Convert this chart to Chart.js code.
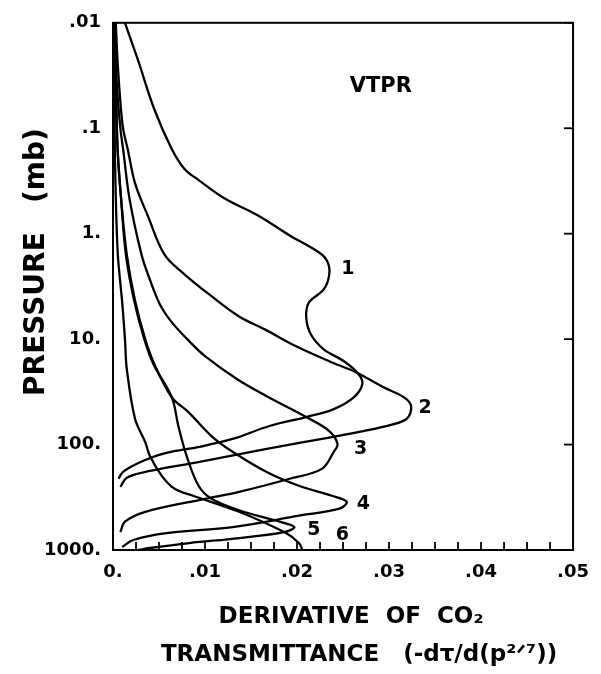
<!DOCTYPE html>
<html>
<head>
<meta charset="utf-8">
<script src="https://cdn.jsdelivr.net/npm/chart.js@4.4.1/dist/chart.umd.min.js"></script>
<style>
  body { margin: 0; background: #fff; }
  canvas { display: block; }
</style>
</head>
<body>
<canvas id="wf" width="601" height="674"></canvas>
<script>
// axis ticks
const yTicks = [0.01, 0.1, 1, 10, 100, 1000];
const yTickLabels = ['.01', '.1', '1.', '10.', '100.', '1000.'];
const xTicks = [0, 0.01, 0.02, 0.03, 0.04, 0.05];
const xTickLabels = ['0.', '.01', '.02', '.03', '.04', '.05'];
const xMinorStep = 0.0025;

// weighting functions (value, pressure in mb)
const curve1X = [0.0013, 0.0027, 0.0045, 0.0064, 0.0078, 0.0092, 0.0121, 0.0159, 0.0192, 0.0224, 0.0233, 0.0235, 0.0229, 0.0213, 0.0210, 0.0215, 0.0229, 0.0251, 0.0267, 0.0271, 0.0262, 0.0240, 0.0210, 0.0170, 0.0130, 0.0094, 0.0058, 0.0035, 0.0018, 0.0010, 0.0006];
const curve1P = [0.01, 0.0224, 0.0664, 0.158, 0.245, 0.305, 0.461, 0.682, 1.04, 1.51, 1.84, 2.44, 3.38, 4.49, 6.22, 9.0, 12.5, 16.2, 21.5, 26.7, 35.5, 46.1, 54.8, 66.7, 88.5, 105, 120, 140, 165, 185, 211];

const curve2X = [0.0003, 0.0005, 0.0008, 0.0011, 0.0016, 0.0024, 0.0038, 0.0056, 0.0078, 0.0105, 0.0137, 0.0165, 0.0199, 0.0235, 0.0264, 0.0294, 0.0316, 0.0324, 0.0319, 0.0292, 0.0238, 0.0167, 0.0094, 0.0040, 0.0015, 0.0008];
const curve2P = [0.01, 0.0234, 0.0558, 0.101, 0.158, 0.333, 0.682, 1.58, 2.44, 3.79, 6.09, 8.08, 11.7, 16.2, 20.6, 28.6, 35.5, 43.2, 57.3, 68.2, 84.8, 110, 146, 178, 206, 252];

const curve3X = [0.0002, 0.0004, 0.0008, 0.0011, 0.0018, 0.0031, 0.0040, 0.0051, 0.0064, 0.0083, 0.0100, 0.0135, 0.0165, 0.0210, 0.0235, 0.0244, 0.0240, 0.0227, 0.0192, 0.0137, 0.0100, 0.0035, 0.0013, 0.0008];
const curve3P = [0.01, 0.036, 0.1, 0.158, 0.469, 1.58, 2.72, 4.69, 6.94, 10.5, 14.5, 24.0, 34.0, 54.8, 74.4, 98.7, 117, 170, 211, 281, 327, 434, 539, 676];

const curve4X = [0.0001, 0.0003, 0.0005, 0.0009, 0.0015, 0.0024, 0.0035, 0.0045, 0.0064, 0.0082, 0.0107, 0.0130, 0.0167, 0.0202, 0.0238, 0.0254, 0.0246, 0.0202, 0.0130, 0.0058, 0.0022, 0.0010];
const curve4P = [0.01, 0.036, 0.158, 0.49, 1.58, 4.33, 10, 17.3, 35.8, 49.2, 83, 117, 182, 246, 306, 349, 406, 473, 606, 691, 804, 937];

const curve5X = [0.0001, 0.0003, 0.0005, 0.0009, 0.0014, 0.0023, 0.0034, 0.0044, 0.0064, 0.0071, 0.0080, 0.0093, 0.0107, 0.0137, 0.0181, 0.0197, 0.0186, 0.0137, 0.0083, 0.0040, 0.0027];
const curve5P = [0.01, 0.036, 0.158, 0.49, 1.58, 4.33, 10, 17.3, 35.8, 66.7, 128, 246, 327, 420, 539, 606, 676, 770, 859, 957, 1000];

const curve6X = [0.0001, 0.0002, 0.0005, 0.0010, 0.0013, 0.0015, 0.0024, 0.0035, 0.0040, 0.0053, 0.0067, 0.0087, 0.0137, 0.0188, 0.0202, 0.0206];
const curve6P = [0.01, 0.158, 1.45, 4.49, 10, 19.3, 57.3, 94.5, 128, 198, 263, 306, 434, 691, 859, 1000];

// curve numbers and the instrument name
const labelText = ['1', '2', '3', '4', '5', '6', 'VTPR'];
const labelX = [0.0248, 0.0332, 0.0262, 0.0265, 0.0211, 0.0242, 0.0291];
const labelP = [2.16, 45.5, 110, 364, 647, 721, 0.0403];

const FONT = '"DejaVu Sans", sans-serif';

function makeSet(xs, ps) {
  return {
    data: xs.map((x, i) => ({ x: x, y: ps[i] })),
    showLine: true,
    borderColor: '#000',
    borderWidth: 2.3,
    pointRadius: 0,
    tension: 0.35,
    fill: false
  };
}

const framePlugin = {
  id: 'frame',
  afterDatasetsDraw(chart) {
    const { ctx, chartArea: a, scales } = chart;
    ctx.save();
    ctx.strokeStyle = '#000';
    ctx.lineWidth = 2;
    ctx.strokeRect(a.left, a.top, a.right - a.left, a.bottom - a.top);

    // inward ticks on the right edge at each decade
    ctx.lineWidth = 1.8;
    yTicks.forEach(v => {
      const y = scales.y.getPixelForValue(v);
      ctx.beginPath();
      ctx.moveTo(a.right, y);
      ctx.lineTo(a.right - 9, y);
      ctx.stroke();
    });
    // inward minor ticks along the bottom
    for (let i = 1; i < 20; i++) {
      const x = scales.x.getPixelForValue(i * xMinorStep);
      ctx.beginPath();
      ctx.moveTo(x, a.bottom);
      ctx.lineTo(x, a.bottom - 8);
      ctx.stroke();
    }

    ctx.fillStyle = '#000';
    ctx.textBaseline = 'middle';
    labelText.forEach((t, i) => {
      ctx.font = (t === 'VTPR' ? 'bold 21px ' : 'bold 19px ') + FONT;
      const x = scales.x.getPixelForValue(labelX[i]);
      const y = scales.y.getPixelForValue(labelP[i]);
      ctx.textAlign = t === 'VTPR' ? 'center' : 'left';
      ctx.fillText(t, x, y);
    });
    ctx.restore();
  }
};

new Chart(document.getElementById('wf'), {
  type: 'scatter',
  data: {
    datasets: [
      makeSet(curve1X, curve1P),
      makeSet(curve2X, curve2P),
      makeSet(curve3X, curve3P),
      makeSet(curve4X, curve4P),
      makeSet(curve5X, curve5P),
      makeSet(curve6X, curve6P)
    ]
  },
  options: {
    responsive: false,
    animation: false,
    events: [],
    layout: { padding: { left: 20, right: 26, top: 21, bottom: 0 } },
    plugins: { legend: { display: false }, tooltip: { enabled: false } },
    scales: {
      x: {
        type: 'linear',
        min: 0,
        max: 0.05,
        grid: { display: false, drawTicks: false },
        border: { display: true, color: '#000', width: 2 },
        afterBuildTicks: s => { s.ticks = xTicks.map(v => ({ value: v })); },
        afterFit: s => { s.height = 674 - 550; },
        ticks: {
          callback: (v, i) => xTickLabels[i],
          color: '#000',
          font: { family: FONT, size: 18, weight: 'bold' },
          padding: 12,
          maxRotation: 0,
          autoSkip: false
        },
        title: {
          display: true,
          // leading spaces nudge the block right, as in the original lettering
          text: ['  DERIVATIVE  OF  CO\u2082', '    TRANSMITTANCE   (-d\u03c4/d(p\u00b2\u141f\u2077))'],
          color: '#000',
          font: { family: FONT, size: 23, weight: 'bold', lineHeight: 1.65 },
          padding: { top: 0, bottom: 0 }
        }
      },
      y: {
        type: 'logarithmic',
        reverse: true,
        min: 0.01,
        max: 1000,
        grid: { display: false, drawTicks: false },
        border: { display: true, color: '#000', width: 2 },
        afterBuildTicks: s => { s.ticks = yTicks.map(v => ({ value: v })); },
        afterFit: s => { s.width = 113 - 20; },
        ticks: {
          callback: (v, i) => yTickLabels[i],
          color: '#000',
          font: { family: FONT, size: 18, weight: 'bold' },
          padding: 12,
          autoSkip: false
        },
        title: {
          display: true,
          text: '     PRESSURE   (mb)',
          color: '#000',
          font: { family: FONT, size: 28, weight: 'bold' },
          padding: 0
        }
      }
    }
  },
  plugins: [framePlugin]
});
</script>
</body>
</html>
